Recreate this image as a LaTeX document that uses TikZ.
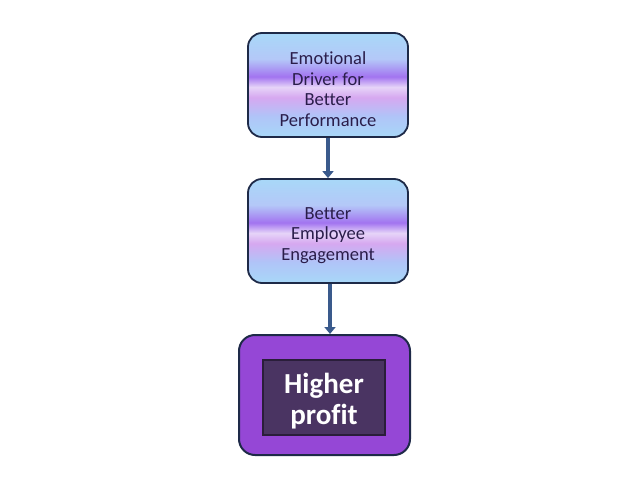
\documentclass[tikz,border=0pt]{standalone}
\usepackage{fontspec}
\setmainfont{Carlito}[Ligatures=NoCommon]
\usetikzlibrary{arrows.meta}
\definecolor{lb}{HTML}{A8D8F8}
\definecolor{cA}{HTML}{B4C8F8}
\definecolor{cB}{HTML}{B0C4F8}
\definecolor{purp}{HTML}{A274F0}
\definecolor{lightb}{HTML}{E6D4F8}
\definecolor{lilac}{HTML}{D6A8F0}
\definecolor{edge}{HTML}{1E2A48}
\definecolor{txt}{HTML}{2A1D4A}
\definecolor{arrc}{HTML}{3A5A8C}
\definecolor{bigfill}{HTML}{9547D6}
\definecolor{innerfill}{HTML}{4A3462}
\definecolor{inneredge}{HTML}{2A1E3A}
\pgfdeclareverticalshading{bandshade}{100bp}{color(0bp)=(lb); color(25bp)=(lb); color(35bp)=(cB); color(44bp)=(lilac); color(49bp)=(lightb); color(54bp)=(purp); color(62.5bp)=(cA); color(75bp)=(lb); color(100bp)=(lb)}
\newcommand{\topgap}[1]{\rule{0pt}{#1}}
\tikzset{
  bandbox/.style={draw=edge, line width=1.8pt, rounded corners=14pt, shading=bandshade,
    minimum width=160pt, minimum height=104pt, inner sep=0pt, align=center,
    text=txt, font=\fontsize{18.5}{20.5}\selectfont},
  bigbox/.style={draw=edge, line width=2pt, rounded corners=16pt, fill=bigfill,
    minimum width=171pt, minimum height=120pt, inner sep=0pt},
  innerbox/.style={draw=inneredge, line width=1.2pt, fill=innerfill, minimum width=122pt,
    minimum height=75pt, inner sep=0pt, align=center, text=white,
    font=\fontsize{29}{31}\selectfont\bfseries},
  arr/.style={draw=arrc, line width=4pt, -{Triangle[width=11pt,length=7pt]}}
}
\begin{document}
\begin{tikzpicture}[x=1pt,y=1pt]
\useasboundingbox (0,0) rectangle (640,480);
\node[bandbox] (b1) at (328,395) {\topgap{21pt}Emotional\\Driver for\\Better\\Performance};
\node[bandbox] (b2) at (328,249) {\topgap{21pt}Better\\Employee\\Engagement};
\node[bigbox] (b3) at (324.5,85) {};
\node[innerbox] (b4) at (324,82.5) {\topgap{28pt}Higher\\profit};
\draw[arr] (b1.south) -- (b2.north);
\draw[arr] ([xshift=2pt]b2.south) -- ([xshift=2pt]b2.south |- b3.north);
\end{tikzpicture}
\end{document}
